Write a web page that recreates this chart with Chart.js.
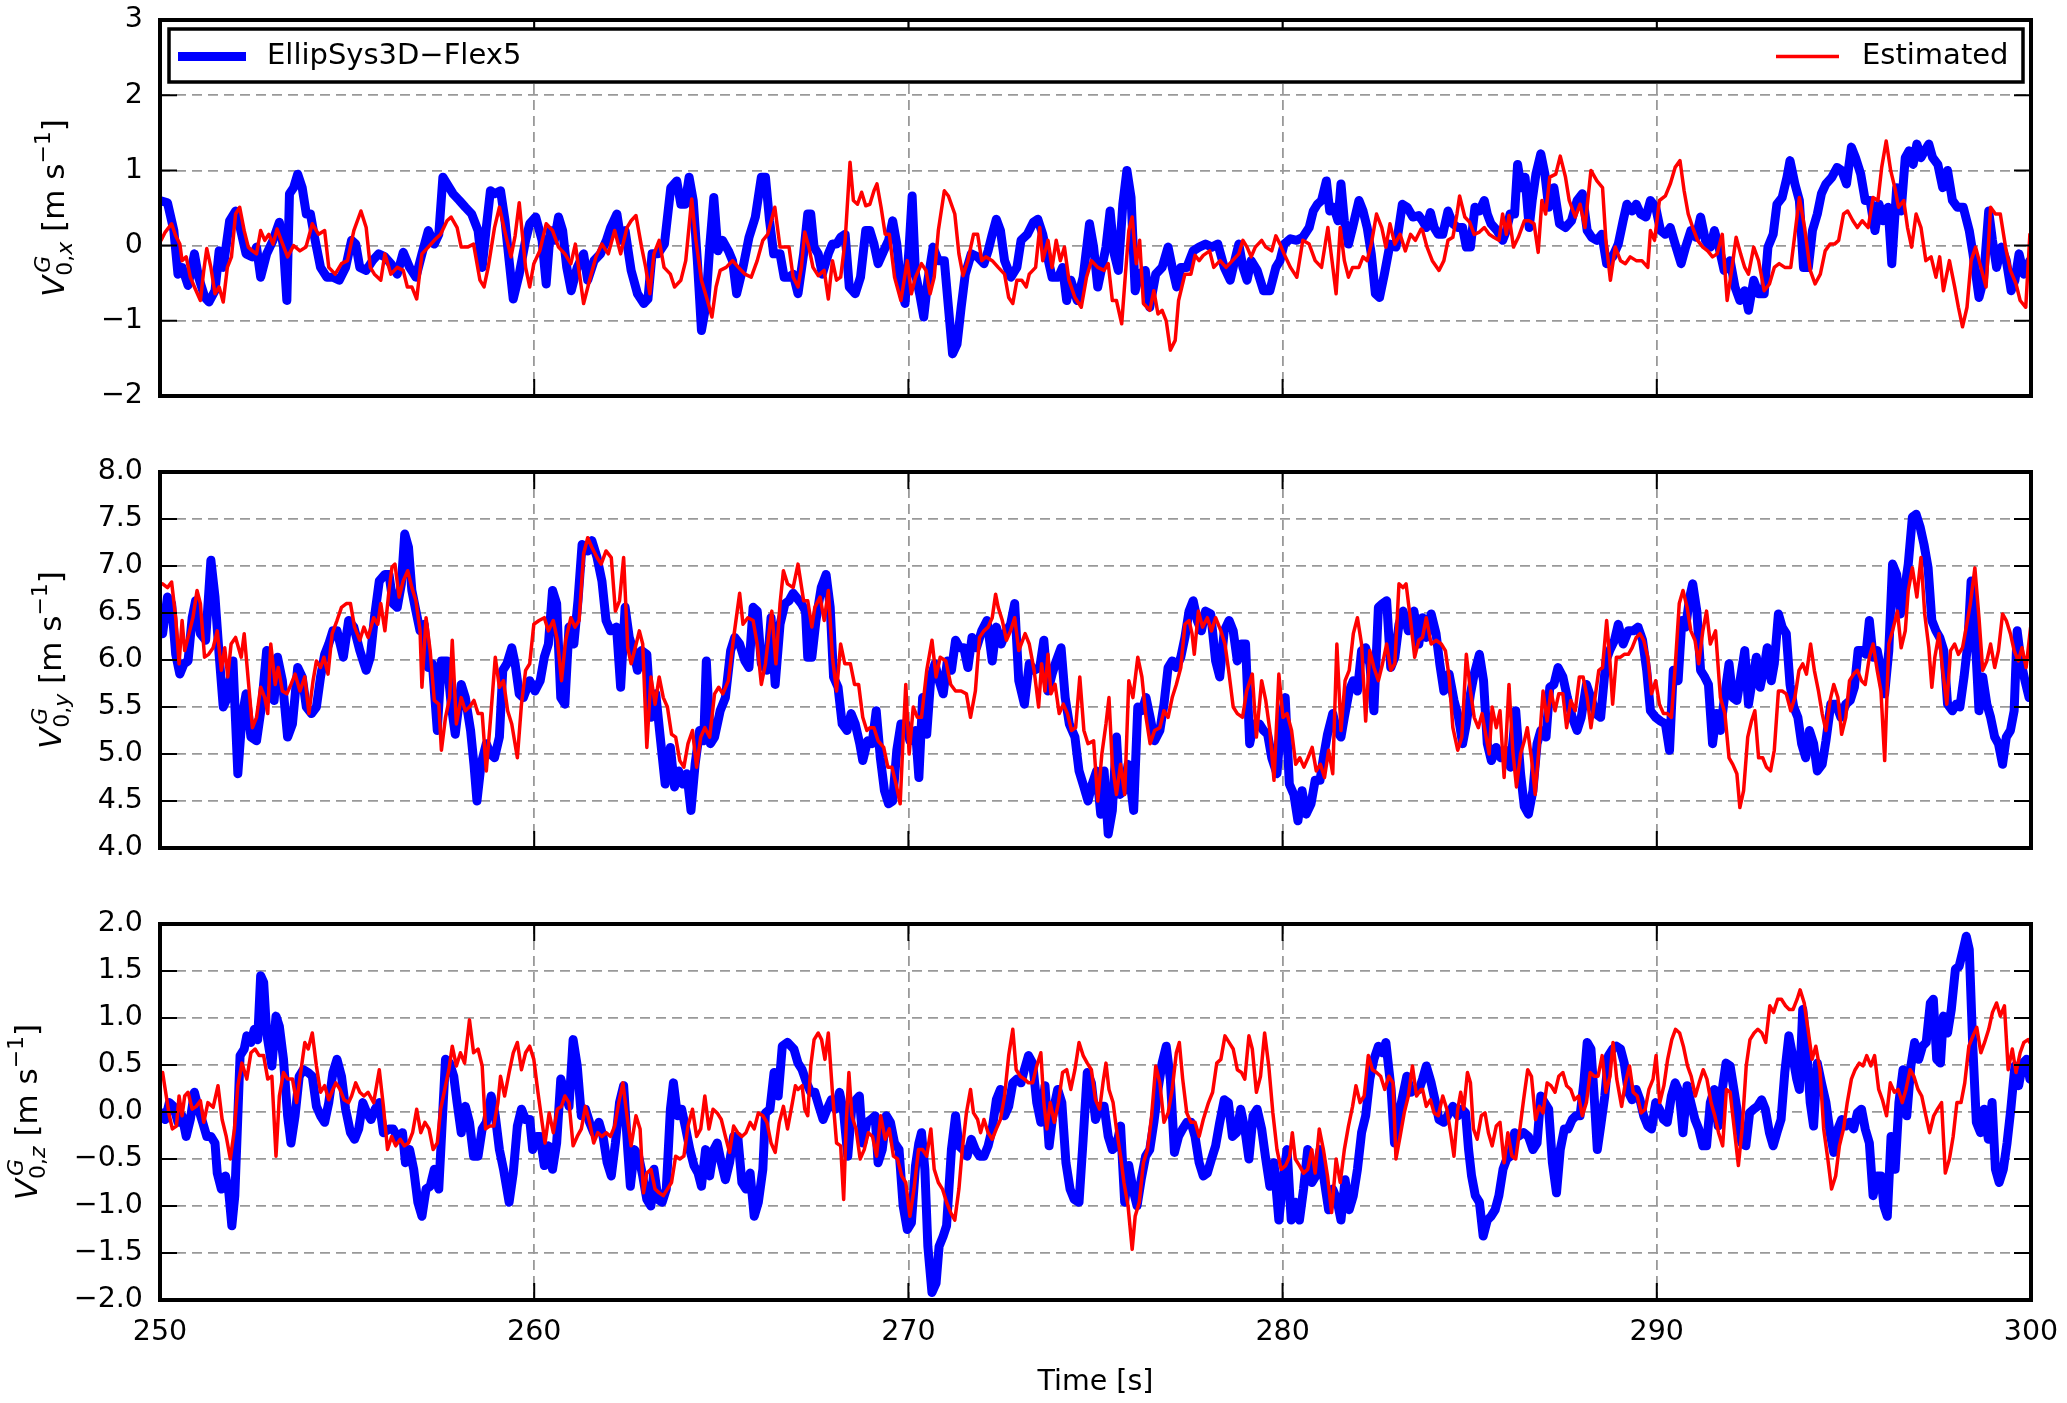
<!DOCTYPE html>
<html>
<head>
<meta charset="utf-8">
<title>Velocity components</title>
<script src="https://cdn.jsdelivr.net/npm/chart.js@4.4.1/dist/chart.umd.min.js"></script>
<style>
  html, body { margin: 0; padding: 0; background: #fff; }
  #wrap { position: relative; width: 2067px; height: 1403px; background: #fff; }
  .panel { position: absolute; left: 0; width: 2067px; }
</style>
</head>
<body>
<div id="wrap">
  <div class="panel" style="top:0;height:440px"><canvas id="chartX"></canvas></div>
  <div class="panel" style="top:440px;height:440px"><canvas id="chartY"></canvas></div>
  <div class="panel" style="top:880px;height:523px"><canvas id="chartZ"></canvas></div>
</div>
<script>
// ---- data: [time s, value m/s] ----
const seriesNames = ['EllipSys3D\u2212Flex5', 'Estimated'];
const timeTicks = [250, 260, 270, 280, 290, 300];
const vxTicks = [-2, -1, 0, 1, 2, 3];
const vyTicks = [4.0, 4.5, 5.0, 5.5, 6.0, 6.5, 7.0, 7.5, 8.0];
const vzTicks = [-2.0, -1.5, -1.0, -0.5, 0.0, 0.5, 1.0, 1.5, 2.0];

const vxEllipSys = [
[250.0,0.60],[250.2,0.57],[250.37,0.2],[250.48,-0.38],[250.59,-0.29],[250.75,-0.53],[250.92,-0.11],[251.03,-0.42],[251.2,-0.69],[251.31,-0.75],
[251.47,-0.6],[251.58,-0.07],[251.69,-0.29],[251.86,0.33],[252.02,0.46],[252.14,0.24],[252.3,-0.11],[252.47,-0.15],[252.58,-0.02],[252.69,-0.42],
[252.85,-0.11],[253.02,0.07],[253.19,0.31],[253.3,-0.02],[253.39,-0.73],[253.46,0.69],[253.57,0.77],[253.68,0.95],[253.8,0.77],[253.91,0.42],
[254.02,0.42],[254.13,0.11],[254.29,-0.29],[254.46,-0.42],[254.62,-0.42],[254.79,-0.46],[254.96,-0.29],[255.12,0.07],[255.23,0.02],[255.34,-0.29],
[255.51,-0.33],[255.68,-0.2],[255.84,-0.11],[256.01,-0.15],[256.17,-0.24],[256.34,-0.38],[256.5,-0.09],[256.67,-0.29],[256.84,-0.42],[257.0,-0.11],
[257.17,0.2],[257.33,0.02],[257.45,0.15],[257.56,0.91],[257.67,0.82],[257.83,0.69],[258.0,0.6],[258.16,0.51],[258.33,0.42],[258.5,0.2],
[258.61,-0.29],[258.72,0.24],[258.83,0.73],[258.94,0.69],[259.1,0.73],[259.22,0.33],[259.33,-0.2],[259.44,-0.71],[259.6,-0.38],[259.77,0.07],
[259.88,0.29],[260.04,0.38],[260.21,0.07],[260.32,-0.51],[260.43,0.2],[260.54,0.07],[260.65,0.38],[260.76,0.2],[260.87,-0.29],[260.99,-0.6],
[261.15,-0.29],[261.32,-0.11],[261.43,-0.46],[261.6,-0.2],[261.77,-0.11],[261.93,0.07],[262.04,0.24],[262.21,0.42],[262.32,0.07],[262.43,0.2],
[262.59,-0.33],[262.76,-0.64],[262.93,-0.77],[263.04,-0.71],[263.15,-0.11],[263.31,-0.11],[263.48,0.02],[263.65,0.77],[263.81,0.86],[263.92,0.55],
[264.03,0.55],[264.14,0.91],[264.25,0.6],[264.36,-0.2],[264.47,-1.13],[264.58,-0.82],[264.69,-0.02],[264.8,0.64],[264.91,-0.07],[265.03,0.07],
[265.19,-0.07],[265.3,-0.2],[265.41,-0.64],[265.58,-0.29],[265.74,0.11],[265.91,0.38],[266.07,0.91],[266.18,0.91],[266.29,0.33],[266.4,-0.11],
[266.57,-0.11],[266.68,-0.42],[266.81,-0.42],[266.92,-0.38],[267.05,-0.64],[267.2,-0.11],[267.31,0.42],[267.39,0.42],[267.48,-0.02],[267.59,-0.11],
[267.7,-0.38],[267.86,-0.11],[267.97,0.02],[268.08,0.02],[268.19,0.11],[268.31,0.15],[268.42,-0.55],[268.58,-0.64],[268.72,-0.42],[268.86,0.2],
[268.97,0.2],[269.08,0.02],[269.19,-0.24],[269.34,-0.07],[269.47,0.07],[269.58,0.33],[269.69,0.02],[269.8,-0.55],[269.91,-0.77],[270.02,-0.02],
[270.1,0.66],[270.19,-0.38],[270.3,-0.64],[270.41,-0.95],[270.52,-0.46],[270.66,-0.02],[270.8,-0.2],[270.96,-0.2],[271.07,-0.82],[271.18,-1.44],
[271.3,-1.31],[271.41,-0.82],[271.52,-0.38],[271.68,-0.11],[271.85,-0.15],[272.02,-0.24],[272.13,-0.07],[272.24,0.15],[272.35,0.35],[272.46,0.2],
[272.57,-0.2],[272.74,-0.42],[272.9,-0.29],[273.01,0.07],[273.18,0.15],[273.34,0.31],[273.46,0.35],[273.59,0.15],[273.7,-0.11],[273.84,-0.42],
[274.01,-0.42],[274.12,-0.29],[274.23,-0.73],[274.34,-0.46],[274.51,-0.73],[274.67,-0.42],[274.84,0.29],[274.95,-0.02],[275.06,-0.55],[275.17,-0.29],
[275.28,-0.02],[275.39,0.46],[275.5,-0.11],[275.61,-0.33],[275.73,0.55],[275.84,1.0],[275.95,0.64],[276.06,-0.6],[276.17,-0.38],[276.33,-0.33],
[276.45,-0.82],[276.61,-0.38],[276.78,-0.29],[276.94,-0.02],[277.05,-0.29],[277.17,-0.55],[277.28,-0.29],[277.44,-0.29],[277.61,-0.07],[277.77,-0.02],
[277.94,0.02],[278.11,-0.02],[278.27,0.02],[278.44,-0.29],[278.6,-0.46],[278.72,-0.2],[278.83,0.02],[278.94,-0.29],[279.05,-0.46],[279.16,-0.2],
[279.32,-0.33],[279.49,-0.6],[279.66,-0.6],[279.82,-0.29],[279.93,-0.2],[280.04,0.02],[280.21,0.09],[280.38,0.07],[280.54,0.11],[280.71,0.24],
[280.82,0.46],[280.93,0.55],[281.04,0.6],[281.17,0.86],[281.26,0.46],[281.37,0.51],[281.48,0.33],[281.56,0.82],[281.65,0.33],[281.76,0.02],
[281.87,0.24],[282.04,0.6],[282.15,0.46],[282.26,0.24],[282.37,-0.11],[282.48,-0.64],[282.59,-0.69],[282.72,-0.38],[282.87,0.02],[283.03,-0.02],
[283.2,0.55],[283.33,0.51],[283.48,0.38],[283.64,0.4],[283.74,0.33],[283.84,0.24],[283.95,0.44],[284.05,0.24],[284.16,0.15],[284.28,0.15],
[284.42,0.46],[284.55,0.29],[284.68,0.24],[284.81,0.24],[284.91,-0.02],[285.02,-0.02],[285.14,0.51],[285.26,0.46],[285.39,0.6],[285.47,0.42],
[285.57,0.29],[285.73,0.2],[285.88,0.07],[285.98,0.2],[286.08,0.42],[286.2,0.42],[286.28,1.08],[286.38,0.77],[286.48,0.91],[286.59,0.24],
[286.67,0.6],[286.77,0.95],[286.9,1.22],[287.01,0.95],[287.11,0.51],[287.25,0.77],[287.4,0.29],[287.56,0.24],[287.72,0.33],[287.87,0.6],
[288.01,0.69],[288.14,0.2],[288.26,0.11],[288.4,0.07],[288.53,0.15],[288.66,-0.24],[288.82,-0.15],[288.97,0.02],[289.1,0.33],[289.2,0.55],
[289.34,0.46],[289.45,0.55],[289.57,0.42],[289.71,0.38],[289.83,0.6],[289.97,0.51],[290.1,0.2],[290.23,0.15],[290.36,0.24],[290.49,0.02],
[290.65,-0.24],[290.77,-0.02],[290.91,0.2],[291.05,0.11],[291.17,0.38],[291.3,0.07],[291.43,-0.02],[291.54,0.2],[291.66,-0.02],[291.8,-0.33],
[291.96,-0.2],[292.09,-0.55],[292.22,-0.73],[292.35,-0.6],[292.45,-0.86],[292.59,-0.46],[292.72,-0.64],[292.87,-0.64],[292.97,-0.02],[293.11,0.15],
[293.21,0.55],[293.35,0.64],[293.48,0.91],[293.56,1.13],[293.69,0.82],[293.81,0.6],[293.92,-0.29],[294.05,-0.29],[294.16,0.2],[294.29,0.42],
[294.4,0.69],[294.52,0.82],[294.68,0.91],[294.82,1.04],[294.94,1.0],[295.07,0.82],[295.2,1.31],[295.31,1.17],[295.45,0.95],[295.57,0.6],
[295.7,0.6],[295.83,0.2],[295.94,0.55],[296.04,0.33],[296.18,0.51],[296.28,-0.24],[296.41,0.77],[296.53,0.46],[296.64,1.17],[296.74,1.26],
[296.85,1.08],[296.95,1.35],[297.06,1.17],[297.16,1.26],[297.27,1.35],[297.37,1.17],[297.51,1.08],[297.64,0.77],[297.77,1.0],[297.9,0.6],
[298.03,0.51],[298.19,0.51],[298.35,0.2],[298.45,-0.11],[298.61,-0.69],[298.73,-0.46],[298.87,0.46],[298.97,0.07],[299.08,-0.29],[299.21,-0.02],
[299.34,-0.2],[299.47,-0.6],[299.57,-0.46],[299.68,-0.11],[299.81,-0.38],[299.97,-0.2]
];

const vxEstimated = [
[250.03,0.07],[250.14,0.18],[250.31,0.29],[250.42,0.13],[250.53,0.02],[250.59,-0.2],[250.7,-0.15],[250.81,-0.42],[250.92,-0.55],[251.08,-0.73],
[251.17,-0.33],[251.25,-0.04],[251.36,-0.29],[251.47,-0.64],[251.58,-0.55],[251.69,-0.75],[251.8,-0.29],[251.91,-0.15],[252.02,0.42],[252.13,0.51],
[252.25,0.2],[252.36,-0.02],[252.47,-0.07],[252.58,-0.11],[252.69,0.2],[252.8,0.07],[252.91,0.15],[253.02,0.02],[253.13,0.22],[253.24,0.07],
[253.41,-0.15],[253.57,0],[253.74,-0.07],[253.9,-0.02],[254.07,0.29],[254.24,0.15],[254.4,0.2],[254.51,-0.29],[254.68,-0.38],[254.85,-0.24],
[255.01,-0.2],[255.18,0.2],[255.37,0.46],[255.51,0.24],[255.62,-0.29],[255.73,-0.38],[255.9,-0.46],[256.01,-0.11],[256.17,-0.38],[256.34,-0.29],
[256.5,-0.33],[256.61,-0.55],[256.73,-0.55],[256.86,-0.71],[257.0,-0.11],[257.17,-0.02],[257.33,0.07],[257.5,0.15],[257.67,0.33],[257.78,0.38],
[257.94,0.24],[258.05,-0.02],[258.22,-0.02],[258.38,0.02],[258.55,-0.46],[258.66,-0.55],[258.77,-0.29],[258.94,0.24],[259.07,0.51],[259.21,0.2],
[259.38,-0.15],[259.49,0.13],[259.6,0.57],[259.77,-0.29],[259.88,-0.55],[259.99,-0.24],[260.15,-0.07],[260.32,0.29],[260.49,0.2],[260.65,-0.02],
[260.82,-0.11],[260.98,-0.24],[261.1,0.02],[261.21,-0.38],[261.32,-0.77],[261.48,-0.46],[261.65,-0.15],[261.81,0.02],[261.98,-0.11],[262.15,0.2],
[262.31,-0.11],[262.48,0.24],[262.59,0.33],[262.72,0.4],[262.87,-0.02],[262.98,-0.29],[263.09,-0.64],[263.2,-0.11],[263.34,0.07],[263.47,-0.29],
[263.64,-0.38],[263.75,-0.55],[263.92,-0.46],[264.05,-0.2],[264.21,0.62],[264.32,0.07],[264.47,-0.46],[264.63,-0.73],[264.75,-0.95],[264.86,-0.55],
[264.97,-0.33],[265.13,-0.29],[265.3,-0.2],[265.46,-0.29],[265.63,-0.38],[265.8,-0.42],[265.96,-0.2],[266.11,0.07],[266.24,0.15],[266.43,0.51],
[266.57,-0.02],[266.74,-0.02],[266.81,-0.02],[266.92,-0.42],[267.05,-0.55],[267.14,-0.29],[267.23,0.18],[267.34,-0.02],[267.45,-0.29],[267.59,-0.4],
[267.75,-0.33],[267.86,-0.71],[267.97,-0.2],[268.08,-0.46],[268.19,-0.42],[268.31,0.07],[268.44,1.11],[268.53,0.6],[268.64,0.55],[268.75,0.71],
[268.86,0.53],[268.97,0.55],[269.08,0.73],[269.16,0.82],[269.27,0.51],[269.38,0.15],[269.49,0.15],[269.63,-0.42],[269.8,-0.73],[269.97,-0.2],
[270.08,-0.64],[270.19,-0.42],[270.35,-0.24],[270.47,-0.33],[270.58,-0.64],[270.69,-0.42],[270.8,0.2],[270.96,0.73],[271.07,0.66],[271.24,0.42],
[271.35,-0.11],[271.46,-0.4],[271.59,-0.2],[271.74,0.15],[271.85,0.15],[271.96,-0.2],[272.07,-0.15],[272.24,-0.2],[272.4,-0.29],[272.57,-0.38],
[272.68,-0.69],[272.79,-0.77],[272.9,-0.46],[273.03,-0.46],[273.15,-0.55],[273.23,-0.38],[273.4,-0.29],[273.51,0.24],[273.59,-0.2],[273.73,0.07],
[273.84,-0.29],[273.95,0.07],[274.06,-0.2],[274.17,-0.02],[274.29,-0.46],[274.45,-0.69],[274.62,-0.82],[274.76,-0.42],[274.89,-0.2],[275.06,-0.29],
[275.23,-0.33],[275.34,-0.24],[275.45,-0.73],[275.56,-0.73],[275.7,-1.04],[275.8,-0.38],[275.89,0.2],[275.98,0.38],[276.09,-0.24],[276.18,0.07],
[276.28,-0.77],[276.45,-0.86],[276.56,-0.6],[276.67,-0.91],[276.78,-0.86],[276.89,-1.0],[277.0,-1.39],[277.13,-1.26],[277.22,-0.73],[277.39,-0.38],
[277.55,-0.38],[277.66,-0.13],[277.77,-0.2],[277.88,-0.13],[278.05,-0.07],[278.16,-0.29],[278.33,-0.2],[278.49,-0.29],[278.66,-0.2],[278.83,-0.11],
[278.94,0.07],[279.05,-0.02],[279.16,-0.15],[279.27,-0.02],[279.44,0.07],[279.55,-0.02],[279.71,-0.07],[279.82,0.13],[279.93,0.02],[280.04,-0.11],
[280.21,-0.29],[280.38,-0.42],[280.54,0.07],[280.71,0.02],[280.87,-0.2],[281.04,-0.29],[281.21,0.24],[281.32,-0.2],[281.43,-0.64],[281.54,0.24],
[281.65,-0.2],[281.76,-0.42],[281.87,-0.29],[282.04,-0.29],[282.15,-0.15],[282.26,-0.2],[282.37,0.02],[282.51,0.42],[282.65,0.24],[282.76,-0.02],
[282.87,0.29],[283.0,0.02],[283.14,0.15],[283.28,-0.07],[283.42,0.15],[283.55,0.07],[283.7,0.22],[283.74,0.2],[283.86,-0.02],[284.0,-0.2],
[284.18,-0.33],[284.31,-0.2],[284.42,0.07],[284.55,0.11],[284.66,0.42],[284.73,0.66],[284.87,0.38],[285.0,0.31],[285.12,0.15],[285.26,0.18],
[285.39,0.24],[285.52,0.15],[285.64,0.11],[285.78,0.07],[285.88,0.42],[285.98,0.15],[286.05,0.4],[286.17,-0.02],[286.3,0.11],[286.46,0.33],
[286.59,0.33],[286.72,0.29],[286.83,-0.09],[286.93,0.6],[287.03,0.42],[287.14,0.91],[287.3,0.95],[287.42,1.19],[287.56,0.91],[287.66,0.6],
[287.82,0.38],[287.95,0.55],[288.08,0.24],[288.24,1.0],[288.4,0.86],[288.55,0.77],[288.64,0.07],[288.76,-0.46],[288.89,-0.02],[289.03,-0.2],
[289.16,-0.24],[289.29,-0.15],[289.45,-0.2],[289.6,-0.2],[289.76,-0.29],[289.83,0.2],[289.94,0.07],[290.07,0.6],[290.23,0.66],[290.36,0.82],
[290.49,1.04],[290.62,1.13],[290.73,0.73],[290.84,0.42],[290.96,0.24],[291.09,0.07],[291.23,-0.02],[291.36,-0.07],[291.49,-0.15],[291.61,-0.11],
[291.75,0.15],[291.88,-0.73],[292.01,-0.29],[292.12,0.11],[292.24,-0.11],[292.35,-0.29],[292.45,-0.38],[292.59,-0.02],[292.72,-0.2],[292.87,-0.6],
[293.01,-0.51],[293.14,-0.29],[293.27,-0.24],[293.42,-0.29],[293.58,-0.29],[293.69,0.15],[293.81,0.64],[293.95,0.24],[294.1,-0.33],[294.23,-0.51],
[294.37,-0.38],[294.5,-0.07],[294.63,0.02],[294.75,0.02],[294.86,0.07],[294.99,0.42],[295.1,0.46],[295.24,0.33],[295.36,0.24],[295.49,0.33],
[295.65,0.24],[295.78,0.64],[295.91,0.6],[296.01,1.04],[296.13,1.39],[296.25,1.0],[296.36,0.77],[296.46,0.51],[296.6,0.6],[296.7,0.24],
[296.81,-0.02],[296.93,0.42],[297.06,0.24],[297.19,-0.2],[297.33,-0.15],[297.46,-0.42],[297.56,-0.15],[297.66,-0.6],[297.82,-0.2],[297.96,-0.55],
[298.06,-0.82],[298.17,-1.08],[298.29,-0.82],[298.4,-0.2],[298.52,-0.02],[298.66,-0.29],[298.8,-0.55],[298.92,0.51],[299.05,0.42],[299.18,0.42],
[299.32,-0.02],[299.45,-0.33],[299.6,-0.51],[299.71,-0.73],[299.86,-0.82],[299.97,0.15]
];

const vyEllipSys = [
[250.07,6.28],[250.2,6.67],[250.31,6.6],[250.42,6.06],[250.53,5.85],[250.64,5.96],[250.75,5.99],[250.86,6.45],[250.95,6.63],[251.08,6.28],
[251.22,6.21],[251.36,7.06],[251.47,6.67],[251.58,6.06],[251.69,5.5],[251.8,5.6],[251.95,5.99],[252.08,4.79],[252.19,5.39],[252.3,5.64],
[252.43,5.18],[252.58,5.14],[252.72,5.53],[252.85,6.1],[252.96,5.92],[253.05,5.57],[253.14,6.03],[253.27,5.78],[253.41,5.18],[253.54,5.32],
[253.68,5.92],[253.8,5.82],[253.91,5.5],[254.05,5.43],[254.18,5.5],[254.29,5.82],[254.4,6.06],[254.51,6.17],[254.62,6.31],[254.73,6.31],
[254.9,6.03],[255.04,6.42],[255.18,6.35],[255.34,6.1],[255.51,5.89],[255.62,6.03],[255.73,6.45],[255.86,6.84],[256.01,6.91],[256.12,6.91],
[256.23,6.6],[256.34,6.56],[256.45,6.81],[256.54,7.34],[256.64,7.2],[256.73,6.74],[256.84,6.52],[256.95,6.31],[257.06,6.38],[257.17,5.92],
[257.28,5.96],[257.41,5.25],[257.52,5.99],[257.67,5.99],[257.78,5.53],[257.89,5.21],[258.05,5.74],[258.16,5.6],[258.3,5.25],[258.39,4.89],
[258.47,4.5],[258.58,4.89],[258.72,5.11],[258.83,5.0],[258.94,4.96],[259.07,5.18],[259.16,5.89],[259.27,5.96],[259.4,6.13],[259.49,5.96],
[259.6,5.64],[259.71,5.6],[259.88,5.78],[260.02,5.67],[260.16,5.78],[260.27,6.03],[260.38,6.17],[260.49,6.74],[260.6,6.6],[260.71,5.6],
[260.82,5.53],[260.93,6.35],[261.06,6.17],[261.17,6.63],[261.28,7.23],[261.43,7.16],[261.54,7.27],[261.68,7.09],[261.81,6.84],[261.92,6.42],
[262.04,6.31],[262.2,6.35],[262.31,5.71],[262.43,6.56],[262.54,6.24],[262.65,6.1],[262.76,5.89],[262.87,6.1],[263.01,6.06],[263.12,5.39],
[263.25,5.64],[263.36,5.21],[263.5,4.68],[263.64,5.07],[263.75,4.65],[263.86,4.82],[263.97,4.68],[264.08,4.79],[264.19,4.4],[264.3,4.89],
[264.42,5.25],[264.53,5.14],[264.6,5.99],[264.71,5.11],[264.82,5.18],[264.97,5.46],[265.11,5.6],[265.25,6.1],[265.36,6.24],[265.49,6.17],
[265.63,5.99],[265.74,5.92],[265.85,6.56],[265.96,6.52],[266.07,5.96],[266.22,5.89],[266.33,6.45],[266.44,5.74],[266.57,6.38],[266.7,6.6],
[266.81,6.63],[266.92,6.71],[267.14,6.6],[267.25,6.52],[267.31,6.03],[267.42,6.03],[267.53,6.42],[267.67,6.77],[267.8,6.91],[267.91,6.56],
[268.0,5.82],[268.12,5.71],[268.23,5.32],[268.36,5.25],[268.47,5.43],[268.58,5.32],[268.7,5.11],[268.78,4.93],[268.91,5.14],[269.03,5.11],
[269.14,5.46],[269.25,4.96],[269.36,4.61],[269.47,4.47],[269.58,4.5],[269.69,5.04],[269.8,5.32],[269.93,5.32],[270.04,5.14],[270.19,5.25],
[270.28,4.75],[270.38,5.6],[270.49,5.21],[270.6,5.82],[270.71,5.96],[270.82,5.78],[270.93,5.64],[271.04,5.99],[271.15,5.89],[271.26,6.21],
[271.37,6.13],[271.48,6.13],[271.59,5.92],[271.7,6.24],[271.82,6.13],[271.96,6.31],[272.1,6.42],[272.24,5.99],[272.35,6.35],[272.48,6.17],
[272.62,6.31],[272.73,6.38],[272.84,6.6],[272.95,5.78],[273.1,5.53],[273.23,5.96],[273.36,5.89],[273.51,5.92],[273.62,6.21],[273.73,5.67],
[273.84,5.85],[273.95,5.99],[274.08,6.13],[274.19,5.6],[274.3,5.32],[274.45,5.18],[274.56,4.82],[274.69,4.65],[274.8,4.5],[274.91,4.68],
[275.03,4.82],[275.14,4.36],[275.23,4.82],[275.34,4.15],[275.45,4.4],[275.56,5.18],[275.65,4.57],[275.76,4.61],[275.87,4.89],[276.02,4.4],
[276.13,5.5],[276.24,5.46],[276.35,5.6],[276.46,5.39],[276.58,5.14],[276.72,5.25],[276.83,5.53],[276.94,5.92],[277.05,5.99],[277.16,5.92],
[277.28,6.03],[277.39,6.24],[277.5,6.52],[277.61,6.63],[277.72,6.42],[277.83,6.31],[277.94,6.52],[278.08,6.49],[278.21,5.99],[278.32,5.82],
[278.44,6.31],[278.57,6.42],[278.68,6.31],[278.79,5.99],[278.9,6.17],[279.01,6.17],[279.12,5.11],[279.23,5.32],[279.38,5.32],[279.49,5.25],
[279.6,5.21],[279.71,4.96],[279.85,4.79],[279.96,5.35],[280.07,5.6],[280.18,4.68],[280.3,4.57],[280.41,4.29],[280.52,4.61],[280.63,4.36],
[280.76,4.47],[280.87,4.72],[281.0,4.72],[281.09,4.96],[281.2,5.21],[281.34,5.43],[281.45,5.25],[281.56,5.18],[281.65,5.39],[281.78,5.67],
[281.89,5.78],[282.0,5.67],[282.11,6.1],[282.22,6.13],[282.33,5.96],[282.44,5.46],[282.56,6.56],[282.67,6.6],[282.78,6.63],[282.89,5.92],
[283.0,6.03],[283.11,6.38],[283.22,6.52],[283.36,6.31],[283.51,6.52],[283.64,6.17],[283.74,6.45],[283.84,6.24],[283.97,6.49],[284.1,6.28],
[284.2,5.96],[284.31,5.67],[284.45,5.85],[284.58,5.57],[284.7,5.39],[284.81,5.11],[284.91,5.32],[285.02,5.64],[285.12,5.85],[285.26,6.06],
[285.37,5.78],[285.47,5.11],[285.58,4.93],[285.71,5.07],[285.83,4.96],[285.96,5.04],[286.09,4.86],[286.23,5.46],[286.36,4.79],[286.46,4.44],
[286.57,4.36],[286.69,4.61],[286.8,5.11],[286.9,5.25],[287.04,5.18],[287.14,5.71],[287.25,5.74],[287.36,5.92],[287.49,5.82],[287.61,5.6],
[287.74,5.39],[287.87,5.25],[287.98,5.39],[288.12,5.74],[288.24,5.6],[288.37,5.43],[288.5,5.39],[288.64,5.99],[288.74,6.1],[288.87,6.21],
[288.97,6.38],[289.1,6.17],[289.24,6.31],[289.37,6.31],[289.5,6.35],[289.62,6.21],[289.73,5.89],[289.83,5.46],[289.97,5.39],[290.1,5.35],
[290.23,5.32],[290.34,5.04],[290.44,5.89],[290.57,5.78],[290.67,6.42],[290.77,6.35],[290.88,6.67],[290.96,6.81],[291.07,6.52],[291.17,5.89],
[291.28,5.82],[291.38,5.74],[291.49,5.11],[291.59,5.43],[291.7,5.25],[291.82,5.64],[291.93,5.96],[292.03,5.6],[292.14,5.57],[292.24,5.82],
[292.35,6.1],[292.45,5.53],[292.55,5.78],[292.66,6.03],[292.76,5.71],[292.87,5.92],[292.95,6.13],[293.06,5.78],[293.14,5.96],[293.25,6.49],
[293.35,6.35],[293.46,6.28],[293.56,5.74],[293.66,5.5],[293.77,5.39],[293.87,5.11],[293.98,4.96],[294.08,5.25],[294.19,5.11],[294.29,4.82],
[294.42,4.89],[294.52,5.14],[294.65,5.53],[294.79,5.53],[294.92,5.39],[295.05,5.53],[295.17,5.57],[295.28,5.71],[295.38,6.1],[295.49,6.1],
[295.59,6.06],[295.68,6.42],[295.78,6.03],[295.89,6.1],[295.99,5.89],[296.09,5.64],[296.2,6.1],[296.3,7.02],[296.41,6.91],[296.51,6.49],
[296.62,6.74],[296.72,7.02],[296.83,7.52],[296.93,7.55],[297.04,7.41],[297.14,7.23],[297.25,6.98],[297.35,6.42],[297.46,6.31],[297.56,6.24],
[297.67,6.1],[297.77,5.53],[297.9,5.46],[298.0,5.53],[298.1,5.5],[298.21,5.82],[298.31,6.17],[298.4,6.84],[298.5,6.31],[298.61,5.46],
[298.71,5.82],[298.82,5.53],[298.92,5.39],[299.03,5.18],[299.13,5.11],[299.24,4.89],[299.34,5.18],[299.45,5.25],[299.55,5.46],[299.63,6.31],
[299.74,5.96],[299.84,5.78],[299.95,5.6]
];

const vyEstimated = [
[250.07,6.81],[250.2,6.77],[250.31,6.83],[250.42,6.45],[250.51,5.96],[250.59,6.42],[250.66,6.1],[250.75,6.24],[250.88,6.45],[250.99,6.74],
[251.08,6.6],[251.19,6.03],[251.3,6.06],[251.42,6.13],[251.53,6.31],[251.64,5.89],[251.73,6.13],[251.81,5.82],[251.9,6.17],[252.02,6.24],
[252.17,6.03],[252.25,6.28],[252.36,5.78],[252.47,5.28],[252.58,5.39],[252.69,5.71],[252.8,5.6],[252.88,5.43],[252.96,6.17],[253.08,5.74],
[253.16,5.92],[253.27,5.67],[253.39,5.64],[253.5,5.74],[253.61,5.85],[253.74,5.67],[253.87,5.82],[253.98,5.43],[254.09,5.78],[254.18,5.99],
[254.29,5.92],[254.38,6.03],[254.49,5.85],[254.6,6.28],[254.73,6.42],[254.85,6.56],[254.98,6.6],[255.09,6.6],[255.2,6.35],[255.34,6.21],
[255.45,6.35],[255.56,6.24],[255.71,6.45],[255.82,6.38],[255.9,6.6],[256.01,6.31],[256.12,6.74],[256.2,6.99],[256.28,7.02],[256.39,6.67],
[256.5,6.84],[256.62,6.95],[256.73,6.77],[256.84,6.63],[256.95,6.31],[257.0,5.71],[257.11,6.45],[257.22,6.1],[257.33,5.57],[257.45,5.53],
[257.52,5.04],[257.63,5.39],[257.74,5.6],[257.81,6.21],[257.92,5.32],[258.05,5.6],[258.16,5.46],[258.27,5.5],[258.39,5.57],[258.5,5.43],
[258.61,5.43],[258.72,4.82],[258.85,5.46],[258.96,6.03],[259.07,5.71],[259.18,5.78],[259.29,5.46],[259.4,5.32],[259.55,4.96],[259.66,5.53],
[259.77,5.89],[259.88,5.96],[259.99,6.38],[260.13,6.42],[260.27,6.45],[260.38,6.31],[260.51,6.42],[260.62,6.21],[260.73,5.78],[260.84,6.21],
[260.98,6.45],[261.09,6.35],[261.2,6.42],[261.32,7.13],[261.43,7.3],[261.54,7.2],[261.68,7.09],[261.79,7.02],[261.92,7.16],[262.06,7.09],
[262.17,6.52],[262.28,6.63],[262.39,7.09],[262.5,6.13],[262.59,5.96],[262.7,6.13],[262.81,6.31],[262.9,6.17],[263.01,5.07],[263.12,5.82],
[263.23,5.53],[263.34,5.82],[263.45,5.6],[263.56,5.5],[263.67,5.21],[263.78,5.18],[263.89,4.93],[264.0,4.86],[264.11,5.11],[264.23,5.25],
[264.34,4.86],[264.45,5.18],[264.56,5.28],[264.69,5.18],[264.82,5.64],[264.93,5.71],[265.04,5.64],[265.19,5.78],[265.33,6.24],[265.49,6.71],
[265.58,6.38],[265.71,6.45],[265.85,6.42],[265.96,6.17],[266.07,5.74],[266.18,5.96],[266.26,6.24],[266.35,6.52],[266.46,5.96],[266.57,6.6],
[266.66,6.95],[266.77,6.81],[266.92,6.77],[267.05,7.02],[267.2,6.63],[267.31,6.63],[267.42,6.35],[267.5,6.56],[267.64,6.67],[267.75,6.42],
[267.86,6.74],[267.97,6.03],[268.08,5.67],[268.19,6.17],[268.3,5.96],[268.45,5.96],[268.56,5.74],[268.67,5.74],[268.78,5.39],[268.89,5.25],
[268.97,5.28],[269.08,5.28],[269.19,5.14],[269.34,5.07],[269.45,4.86],[269.56,4.86],[269.67,4.68],[269.78,4.47],[269.86,5.18],[269.93,5.74],
[270.02,5.0],[270.13,5.5],[270.24,5.39],[270.35,5.39],[270.49,5.89],[270.63,6.21],[270.74,5.82],[270.85,6.03],[271.0,5.99],[271.13,5.74],
[271.26,5.67],[271.41,5.67],[271.55,5.64],[271.66,5.39],[271.79,5.67],[271.9,6.24],[272.02,6.31],[272.13,6.35],[272.24,6.45],[272.33,6.7],
[272.4,6.56],[272.51,6.42],[272.62,6.21],[272.73,6.31],[272.84,6.45],[272.95,6.1],[273.12,6.28],[273.23,6.17],[273.36,5.89],[273.48,5.5],
[273.56,5.96],[273.65,5.67],[273.73,6.06],[273.81,5.64],[273.92,5.74],[274.03,5.43],[274.14,5.53],[274.25,5.43],[274.36,5.25],[274.47,5.28],
[274.58,5.82],[274.69,5.25],[274.8,5.11],[274.95,5.14],[275.06,4.5],[275.17,5.0],[275.28,5.32],[275.36,5.6],[275.45,4.89],[275.56,4.57],
[275.67,4.89],[275.78,4.57],[275.89,5.78],[276.0,5.6],[276.13,6.03],[276.24,5.82],[276.35,5.39],[276.46,5.11],[276.58,5.25],[276.72,5.28],
[276.83,5.46],[276.94,5.39],[277.05,5.6],[277.16,5.74],[277.28,5.92],[277.39,6.38],[277.5,6.42],[277.58,6.28],[277.64,6.06],[277.75,6.52],
[277.86,6.35],[277.99,6.45],[278.1,6.31],[278.21,6.45],[278.35,6.31],[278.46,6.17],[278.57,5.85],[278.68,5.5],[278.79,5.43],[278.93,5.39],
[279.04,5.67],[279.19,5.85],[279.3,5.18],[279.44,5.78],[279.55,5.57],[279.66,5.25],[279.77,4.72],[279.9,5.85],[280.01,5.39],[280.12,5.43],
[280.24,5.25],[280.35,4.89],[280.46,4.96],[280.57,4.86],[280.68,4.96],[280.79,5.07],[280.9,4.82],[281.01,4.89],[281.12,4.75],[281.23,5.04],
[281.34,4.79],[281.45,6.17],[281.56,5.25],[281.67,5.78],[281.78,5.89],[281.89,6.28],[282.0,6.45],[282.11,6.17],[282.22,5.35],[282.33,6.1],
[282.44,5.92],[282.56,5.78],[282.67,5.96],[282.78,6.17],[282.89,5.89],[283.0,5.96],[283.11,6.81],[283.22,6.77],[283.3,6.81],[283.42,6.42],
[283.53,6.03],[283.64,6.21],[283.74,6.24],[283.84,6.45],[283.97,6.17],[284.1,6.21],[284.24,6.17],[284.35,6.1],[284.45,5.82],[284.55,5.28],
[284.68,5.04],[284.79,5.18],[284.91,6.06],[285.02,5.67],[285.12,5.39],[285.23,5.28],[285.33,5.43],[285.44,5.18],[285.52,5.0],[285.6,5.5],
[285.71,5.28],[285.81,5.46],[285.92,4.75],[286.05,5.74],[286.15,5.04],[286.25,4.65],[286.36,5.0],[286.46,5.14],[286.54,5.28],[286.65,4.96],
[286.75,4.57],[286.86,5.11],[286.96,5.67],[287.07,5.35],[287.17,5.67],[287.28,5.46],[287.38,5.64],[287.49,5.64],[287.59,5.28],[287.7,5.57],
[287.82,5.46],[287.93,5.82],[288.03,5.82],[288.14,5.6],[288.24,5.28],[288.35,5.6],[288.45,5.89],[288.55,5.92],[288.66,6.42],[288.74,6.03],
[288.82,5.53],[288.92,6.03],[289.03,6.03],[289.13,6.06],[289.24,6.06],[289.34,6.13],[289.45,6.24],[289.55,6.28],[289.65,6.21],[289.76,6.03],
[289.86,5.64],[289.97,5.78],[290.07,5.53],[290.18,5.43],[290.28,5.43],[290.39,5.39],[290.49,5.92],[290.6,6.6],[290.7,6.74],[290.81,6.56],
[290.91,6.31],[291.02,6.21],[291.12,5.96],[291.23,6.31],[291.33,6.52],[291.43,6.17],[291.57,6.31],[291.7,5.6],[291.82,5.43],[291.93,4.96],
[292.03,4.89],[292.14,4.79],[292.22,4.43],[292.32,4.61],[292.43,5.18],[292.53,5.35],[292.62,5.46],[292.72,4.96],[292.83,4.96],[292.93,4.86],
[293.04,4.82],[293.14,5.04],[293.25,5.67],[293.35,5.67],[293.46,5.64],[293.58,5.46],[293.69,5.6],[293.8,5.89],[293.9,5.96],[294.0,5.85],
[294.11,6.17],[294.21,5.89],[294.32,5.67],[294.42,5.43],[294.52,5.25],[294.63,5.57],[294.73,5.74],[294.84,5.6],[294.94,5.21],[295.05,5.39],
[295.15,5.78],[295.26,5.85],[295.36,5.89],[295.47,5.78],[295.57,5.74],[295.68,6.03],[295.78,6.17],[295.89,5.89],[295.99,5.67],[296.09,4.93],
[296.2,6.17],[296.3,6.31],[296.43,6.52],[296.53,6.13],[296.64,6.31],[296.72,6.74],[296.83,6.98],[296.95,6.67],[297.06,7.09],[297.16,6.49],
[297.27,6.13],[297.35,5.71],[297.43,6.03],[297.54,6.28],[297.64,5.89],[297.75,5.53],[297.85,6.1],[297.96,6.17],[298.06,6.06],[298.17,6.13],
[298.27,6.35],[298.38,6.6],[298.5,6.98],[298.61,6.45],[298.71,5.89],[298.82,5.99],[298.92,6.17],[299.03,5.92],[299.13,6.1],[299.24,6.49],
[299.34,6.42],[299.45,6.28],[299.55,6.1],[299.66,5.99],[299.76,6.13],[299.87,5.92],[299.99,6.35]
];

const vzEllipSys = [
[250.07,-0.01],[250.14,-0.08],[250.25,0.1],[250.36,0.06],[250.48,-0.11],[250.59,-0.04],[250.7,-0.26],[250.81,-0.08],[250.92,0.21],[251.03,0.03],
[251.14,-0.11],[251.25,-0.26],[251.36,-0.26],[251.47,-0.33],[251.53,-0.65],[251.64,-0.82],[251.75,-0.68],[251.84,-0.86],[251.92,-1.21],[252.0,-0.89],
[252.08,-0.04],[252.14,0.6],[252.25,0.67],[252.32,0.81],[252.43,0.74],[252.52,0.88],[252.61,0.77],[252.69,1.45],[252.77,1.38],[252.85,0.84],
[252.99,0.49],[253.1,1.02],[253.19,0.91],[253.3,0.56],[253.41,-0.04],[253.5,-0.33],[253.61,-0.04],[253.72,0.38],[253.83,0.45],[253.96,0.42],
[254.07,0.38],[254.18,0.06],[254.29,-0.04],[254.4,-0.11],[254.51,0.1],[254.62,0.42],[254.73,0.56],[254.85,0.38],[254.96,0.03],[255.09,-0.22],
[255.2,-0.29],[255.31,-0.18],[255.42,0.1],[255.53,-0.01],[255.64,-0.08],[255.75,0.03],[255.86,0.1],[255.97,-0.22],[256.12,-0.18],[256.23,-0.18],
[256.37,-0.29],[256.48,-0.22],[256.56,-0.54],[256.67,-0.4],[256.78,-0.61],[256.89,-0.96],[257.0,-1.11],[257.11,-0.82],[257.22,-0.79],[257.33,-0.61],
[257.45,-0.82],[257.56,0.03],[257.63,0.56],[257.74,0.52],[257.85,0.38],[257.94,0.1],[258.05,-0.22],[258.16,0.06],[258.27,-0.11],[258.38,-0.47],
[258.5,-0.47],[258.61,-0.18],[258.72,-0.11],[258.85,0.17],[258.96,-0.04],[259.07,-0.4],[259.18,-0.61],[259.33,-0.96],[259.44,-0.65],[259.55,-0.15],
[259.66,0.03],[259.77,-0.08],[259.88,-0.08],[259.96,-0.4],[260.07,-0.26],[260.16,-0.26],[260.27,-0.57],[260.38,-0.36],[260.49,-0.61],[260.6,-0.33],
[260.71,0.35],[260.82,0.21],[260.93,0.06],[261.04,0.77],[261.15,0.49],[261.26,-0.04],[261.37,0.03],[261.48,-0.11],[261.59,-0.22],[261.73,-0.11],
[261.84,-0.26],[261.95,-0.54],[262.06,-0.68],[262.17,-0.33],[262.28,0.1],[262.39,0.28],[262.5,-0.4],[262.57,-0.79],[262.68,-0.4],[262.79,-0.47],
[262.9,-0.68],[263.01,-0.93],[263.12,-1.0],[263.2,-0.61],[263.31,-0.93],[263.42,-0.96],[263.53,-0.82],[263.64,0.03],[263.72,0.31],[263.83,-0.04],
[263.94,0.03],[264.05,-0.18],[264.16,-0.4],[264.27,-0.57],[264.38,-0.65],[264.47,-0.79],[264.58,-0.4],[264.69,-0.68],[264.8,-0.4],[264.89,-0.33],
[265.0,-0.54],[265.11,-0.72],[265.22,-0.54],[265.33,-0.26],[265.44,-0.26],[265.55,-0.75],[265.66,-0.82],[265.77,-0.65],[265.88,-1.11],[265.99,-0.96],
[266.11,-0.61],[266.18,-0.01],[266.3,0.03],[266.41,0.42],[266.52,0.17],[266.63,0.7],[266.77,0.74],[266.94,0.67],[267.05,0.52],[267.16,0.45],
[267.28,0.31],[267.39,0.21],[267.5,0.21],[267.61,0.06],[267.72,-0.08],[267.83,0.03],[267.94,0.13],[268.05,0.03],[268.16,0.21],[268.27,-0.01],
[268.38,-0.47],[268.49,0.06],[268.6,0.13],[268.69,0.17],[268.78,-0.33],[268.89,-0.11],[269.0,-0.08],[269.11,-0.04],[269.19,-0.54],[269.3,-0.4],
[269.41,-0.04],[269.52,-0.11],[269.63,-0.33],[269.75,-0.4],[269.86,-1.0],[269.97,-1.25],[270.08,-1.18],[270.19,-0.57],[270.28,-0.33],[270.35,-0.22],
[270.44,-0.61],[270.52,-1.43],[270.63,-1.92],[270.74,-1.82],[270.82,-1.43],[270.93,-1.32],[271.02,-1.21],[271.15,-0.4],[271.26,-0.04],[271.35,-0.36],
[271.46,-0.4],[271.57,-0.47],[271.68,-0.29],[271.79,-0.4],[271.9,-0.47],[272.02,-0.47],[272.13,-0.36],[272.24,-0.18],[272.35,0.13],[272.46,0.24],
[272.57,-0.04],[272.68,0.06],[272.79,0.31],[272.9,0.35],[273.01,0.31],[273.1,0.45],[273.21,0.6],[273.32,0.52],[273.43,0.1],[273.54,-0.11],
[273.65,0.28],[273.76,-0.36],[273.88,0.03],[273.99,0.24],[274.1,0.1],[274.21,-0.54],[274.32,-0.82],[274.43,-0.93],[274.56,-0.96],[274.67,-0.29],
[274.78,0.42],[274.89,0.31],[275.0,-0.08],[275.12,0.06],[275.23,0.06],[275.34,-0.26],[275.45,-0.4],[275.56,-0.36],[275.67,-0.15],[275.78,-0.96],
[275.89,-0.57],[276.0,-0.82],[276.11,-1.0],[276.22,-0.72],[276.34,-0.47],[276.45,-0.4],[276.56,-0.11],[276.67,0.24],[276.78,0.52],[276.89,0.7],
[277.0,0.35],[277.11,-0.43],[277.22,-0.26],[277.33,-0.18],[277.44,-0.11],[277.55,-0.11],[277.66,-0.26],[277.77,-0.54],[277.88,-0.68],[277.99,-0.65],
[278.1,-0.5],[278.21,-0.36],[278.32,-0.11],[278.44,0.13],[278.55,0.1],[278.66,-0.26],[278.77,-0.22],[278.88,0.03],[278.99,-0.18],[279.1,-0.5],
[279.21,-0.04],[279.32,0.03],[279.44,-0.18],[279.55,-0.5],[279.66,-0.79],[279.77,-0.54],[279.9,-1.15],[280.01,-0.72],[280.12,-0.4],[280.23,-1.15],
[280.34,-0.96],[280.45,-1.15],[280.56,-0.82],[280.67,-0.4],[280.78,-0.75],[280.89,-0.68],[281.0,-0.4],[281.12,-0.75],[281.23,-1.04],[281.34,-0.82],
[281.45,-0.93],[281.56,-1.15],[281.67,-0.72],[281.78,-1.04],[281.89,-0.89],[282.0,-0.61],[282.11,-0.22],[282.22,-0.04],[282.33,0.35],[282.44,0.56],
[282.56,0.7],[282.67,0.63],[282.76,0.74],[282.9,0.24],[282.99,-0.33],[283.1,-0.04],[283.21,0.17],[283.32,0.38],[283.43,0.21],[283.54,0.24],
[283.65,0.24],[283.74,0.35],[283.84,0.49],[283.97,0.31],[284.07,0.13],[284.18,-0.08],[284.31,-0.11],[284.45,-0.01],[284.55,0.06],[284.68,-0.04],
[284.79,0.03],[284.89,-0.01],[284.97,-0.4],[285.05,-0.68],[285.15,-0.89],[285.26,-0.96],[285.36,-1.32],[285.47,-1.15],[285.57,-1.11],[285.68,-1.04],
[285.78,-0.89],[285.89,-0.61],[285.99,-0.5],[286.09,-0.47],[286.2,-0.22],[286.3,-0.26],[286.44,-0.22],[286.57,-0.26],[286.69,-0.4],[286.8,-0.33],
[286.9,0.17],[287.0,0.1],[287.11,0.03],[287.21,-0.54],[287.32,-0.86],[287.42,-0.4],[287.53,-0.18],[287.63,-0.18],[287.74,-0.08],[287.84,-0.04],
[287.95,-0.04],[288.05,0.31],[288.14,0.74],[288.24,0.67],[288.32,0.21],[288.41,-0.4],[288.5,-0.15],[288.61,0.17],[288.71,0.6],[288.82,0.67],
[288.92,0.7],[289.03,0.67],[289.13,0.52],[289.24,0.21],[289.34,0.13],[289.45,0.24],[289.55,0.13],[289.65,-0.04],[289.76,-0.15],[289.86,-0.18],
[289.97,0.1],[290.07,0.03],[290.18,-0.08],[290.28,-0.11],[290.39,0.17],[290.49,0.31],[290.6,0.21],[290.7,-0.22],[290.81,0.28],[290.91,0.1],
[291.02,-0.08],[291.12,-0.18],[291.23,-0.36],[291.33,-0.36],[291.43,0.1],[291.54,0.24],[291.64,-0.15],[291.75,0.24],[291.85,0.52],[291.96,0.49],
[292.06,0.24],[292.17,-0.04],[292.27,-0.33],[292.38,-0.36],[292.48,-0.01],[292.59,0.03],[292.69,0.06],[292.8,0.13],[292.9,0.03],[293.01,-0.22],
[293.11,-0.36],[293.21,-0.22],[293.32,-0.08],[293.42,0.42],[293.53,0.81],[293.63,0.6],[293.74,0.35],[293.81,0.24],[293.9,1.09],[294.0,0.7],
[294.1,0.1],[294.19,-0.15],[294.29,0.52],[294.4,0.31],[294.52,0.1],[294.63,-0.22],[294.73,-0.43],[294.84,-0.18],[294.94,-0.08],[295.05,-0.15],
[295.15,-0.11],[295.26,-0.18],[295.36,-0.01],[295.47,0.03],[295.57,-0.18],[295.68,-0.33],[295.78,-0.89],[295.89,-0.68],[295.99,-0.68],[296.07,-1.0],
[296.16,-1.11],[296.26,-0.26],[296.37,-0.61],[296.47,0.1],[296.58,0.45],[296.68,-0.04],[296.79,0.49],[296.89,0.74],[297.0,0.56],[297.1,0.7],
[297.2,0.74],[297.31,1.16],[297.39,1.2],[297.48,0.56],[297.58,0.52],[297.66,1.02],[297.77,0.84],[297.87,1.09],[297.98,1.52],[298.08,1.55],
[298.19,1.73],[298.27,1.87],[298.35,1.73],[298.44,0.74],[298.54,-0.11],[298.65,-0.22],[298.75,0.03],[298.86,-0.29],[298.96,0.1],[299.05,-0.61],
[299.15,-0.75],[299.26,-0.61],[299.36,-0.33],[299.46,0.03],[299.57,0.49],[299.67,0.28],[299.78,0.52],[299.88,0.56],[299.97,0.35]
];

const vzEstimated = [
[250.07,0.42],[250.14,0.24],[250.25,-0.04],[250.33,-0.18],[250.44,-0.15],[250.51,0.17],[250.59,-0.04],[250.66,0.17],[250.75,0.21],[250.86,0.03],
[250.97,0.06],[251.08,0.12],[251.17,-0.11],[251.28,0.1],[251.42,0.05],[251.55,0.28],[251.66,-0.08],[251.77,-0.26],[251.88,-0.5],[251.99,-0.18],
[252.08,0.28],[252.19,0.52],[252.32,0.35],[252.43,0.63],[252.54,0.67],[252.65,0.6],[252.77,0.6],[252.88,0.35],[252.99,0.38],[253.1,-0.47],
[253.19,0.17],[253.3,0.42],[253.41,0.35],[253.54,0.35],[253.65,0.1],[253.76,0.42],[253.87,0.74],[253.96,0.67],[254.07,0.84],[254.18,0.49],
[254.29,0.21],[254.4,0.28],[254.51,0.13],[254.62,0.24],[254.7,0.31],[254.81,0.24],[254.92,0.13],[255.04,0.1],[255.12,0.17],[255.23,0.31],
[255.34,0.21],[255.45,0.17],[255.56,0.21],[255.71,0.1],[255.86,0.45],[255.97,0.06],[256.08,-0.4],[256.19,-0.26],[256.3,-0.36],[256.42,-0.29],
[256.53,-0.36],[256.64,-0.33],[256.75,-0.22],[256.86,0.03],[256.97,-0.22],[257.08,-0.11],[257.19,-0.18],[257.3,-0.4],[257.41,-0.33],[257.5,0.03],
[257.61,0.24],[257.72,0.45],[257.81,0.7],[257.92,0.49],[258.03,0.63],[258.14,0.52],[258.27,0.98],[258.38,0.63],[258.5,0.67],[258.61,0.49],
[258.7,-0.18],[258.81,-0.15],[258.92,-0.15],[259.03,0.1],[259.1,0.38],[259.21,0.17],[259.33,0.42],[259.44,0.63],[259.55,0.74],[259.66,0.45],
[259.77,0.63],[259.88,0.7],[259.99,0.56],[260.1,0.21],[260.21,-0.11],[260.29,-0.33],[260.4,-0.01],[260.51,-0.22],[260.62,0.03],[260.73,0.06],
[260.82,0.17],[260.93,0.1],[261.04,-0.36],[261.15,-0.26],[261.26,-0.18],[261.37,0.06],[261.48,-0.11],[261.59,-0.33],[261.7,-0.22],[261.81,-0.26],
[261.92,-0.22],[262.04,-0.26],[262.15,-0.15],[262.26,0.1],[262.37,0.31],[262.48,-0.04],[262.59,-0.36],[262.72,-0.04],[262.83,-0.18],[262.92,-0.86],
[263.01,-0.65],[263.12,-0.61],[263.23,-0.82],[263.34,-0.86],[263.45,-0.89],[263.56,-0.82],[263.67,-0.75],[263.78,-0.47],[263.89,-0.5],[264.0,-0.47],
[264.11,-0.15],[264.23,0.03],[264.34,-0.26],[264.45,-0.18],[264.56,0.17],[264.67,-0.18],[264.78,0.03],[264.89,-0.01],[265.0,-0.08],[265.11,-0.26],
[265.22,-0.43],[265.33,-0.15],[265.44,-0.22],[265.55,-0.26],[265.66,-0.22],[265.77,-0.11],[265.88,-0.18],[265.99,-0.01],[266.11,-0.04],[266.22,-0.11],
[266.33,-0.33],[266.44,-0.43],[266.55,-0.11],[266.66,0.06],[266.77,-0.18],[266.9,0.1],[266.98,0.28],[267.05,0.24],[267.16,0.28],[267.23,0.03],
[267.31,-0.04],[267.39,0.49],[267.48,0.77],[267.59,0.84],[267.68,0.77],[267.77,0.56],[267.86,0.84],[267.97,0.21],[268.08,-0.33],[268.19,-0.36],
[268.27,-0.93],[268.34,-0.11],[268.41,0.42],[268.49,-0.04],[268.6,-0.18],[268.71,-0.5],[268.82,-0.4],[268.93,-0.22],[269.04,-0.26],[269.15,-0.47],
[269.26,-0.04],[269.38,-0.29],[269.49,-0.18],[269.6,-0.47],[269.71,-0.5],[269.82,-0.68],[269.93,-0.75],[270.04,-1.11],[270.15,-0.82],[270.27,-0.4],
[270.38,-0.4],[270.49,-0.47],[270.6,-0.18],[270.69,-0.61],[270.8,-0.75],[270.91,-0.82],[271.02,-0.96],[271.13,-1.07],[271.24,-1.15],[271.35,-0.82],
[271.44,-0.4],[271.55,-0.01],[271.66,0.24],[271.74,-0.01],[271.85,-0.08],[271.93,-0.22],[272.02,-0.08],[272.13,-0.22],[272.24,-0.29],[272.35,-0.18],
[272.46,-0.08],[272.57,0.17],[272.68,0.6],[272.79,0.88],[272.88,0.45],[272.99,0.38],[273.1,0.35],[273.21,0.31],[273.32,0.31],[273.43,0.49],
[273.54,0.63],[273.62,0.1],[273.7,-0.18],[273.79,0.1],[273.9,-0.11],[274.01,0.1],[274.12,0.42],[274.23,0.45],[274.34,0.24],[274.45,0.45],
[274.56,0.74],[274.67,0.6],[274.78,0.52],[274.89,0.45],[275.0,0.13],[275.11,0.03],[275.2,0.31],[275.28,0.52],[275.36,0.24],[275.47,0.1],
[275.56,-0.18],[275.67,-0.47],[275.76,-0.75],[275.87,-1.0],[275.98,-1.46],[276.06,-1.11],[276.17,-0.96],[276.28,-0.54],[276.39,-0.4],[276.5,-0.04],
[276.61,0.49],[276.72,0.31],[276.83,-0.11],[276.94,-0.01],[277.05,0.24],[277.16,0.63],[277.24,0.74],[277.33,0.35],[277.44,-0.01],[277.55,-0.11],
[277.66,-0.11],[277.77,-0.26],[277.88,-0.08],[278.02,0.1],[278.13,0.21],[278.24,0.52],[278.35,0.56],[278.46,0.81],[278.57,0.74],[278.68,0.67],
[278.79,0.45],[278.9,0.42],[278.99,0.35],[279.1,0.81],[279.19,0.67],[279.3,0.21],[279.41,0.38],[279.52,0.84],[279.63,0.49],[279.74,-0.01],
[279.85,-0.4],[279.96,-0.61],[280.08,-0.57],[280.19,-0.47],[280.26,-0.22],[280.34,-0.5],[280.45,-0.57],[280.56,-0.65],[280.67,-0.61],[280.78,-0.4],
[280.87,-0.65],[280.98,-0.18],[281.09,-0.4],[281.2,-0.68],[281.31,-1.07],[281.43,-0.5],[281.54,-0.75],[281.65,-0.4],[281.76,-0.15],[281.87,0.06],
[281.96,0.28],[282.07,0.1],[282.18,0.17],[282.29,0.6],[282.4,0.45],[282.51,0.42],[282.62,0.38],[282.73,0.24],[282.84,0.38],[282.95,0.31],
[283.03,-0.5],[283.14,-0.26],[283.25,-0.01],[283.36,0.17],[283.47,0.49],[283.58,0.17],[283.7,0.24],[283.74,0.24],[283.84,0.06],[283.95,0.13],
[284.05,-0.01],[284.16,-0.04],[284.28,0.17],[284.39,0.03],[284.49,-0.22],[284.58,-0.47],[284.68,0.03],[284.76,0.21],[284.84,0.03],[284.94,0.42],
[285.02,0.31],[285.1,-0.18],[285.2,-0.29],[285.31,-0.04],[285.41,-0.01],[285.5,-0.22],[285.6,-0.36],[285.71,-0.15],[285.81,-0.11],[285.92,-0.54],
[286.02,-0.22],[286.13,-0.47],[286.23,-0.5],[286.34,-0.18],[286.44,0.13],[286.55,0.45],[286.65,0.38],[286.76,-0.08],[286.86,0.06],[286.96,-0.01],
[287.07,0.31],[287.17,0.28],[287.28,0.21],[287.38,0.38],[287.49,0.42],[287.59,0.28],[287.7,0.24],[287.8,0.13],[287.91,0.17],[288.01,-0.04],
[288.12,0.1],[288.22,0.42],[288.33,0.38],[288.43,0.38],[288.54,0.6],[288.64,0.21],[288.75,0.38],[288.83,0.74],[288.93,0.35],[289.06,0.06],
[289.16,0.31],[289.27,0.49],[289.37,0.21],[289.48,0.17],[289.58,-0.01],[289.69,0.03],[289.79,0.24],[289.9,0.35],[289.98,0.6],[290.08,0.1],
[290.19,0.28],[290.29,0.56],[290.4,0.77],[290.5,0.88],[290.61,0.84],[290.71,0.7],[290.82,0.49],[290.92,0.38],[291.03,0.17],[291.13,0.31],
[291.24,0.45],[291.34,0.35],[291.45,0.1],[291.55,-0.04],[291.65,-0.22],[291.76,-0.36],[291.86,0.24],[291.96,0.21],[292.07,-0.18],[292.18,-0.57],
[292.28,-0.18],[292.39,0.49],[292.49,0.77],[292.6,0.84],[292.7,0.88],[292.81,0.84],[292.91,0.74],[293.02,1.13],[293.12,1.06],[293.23,1.2],
[293.33,1.2],[293.44,1.13],[293.54,1.09],[293.64,1.09],[293.75,1.2],[293.83,1.3],[293.94,1.16],[294.04,0.88],[294.15,0.56],[294.25,0.7],
[294.36,0.45],[294.46,-0.18],[294.57,-0.5],[294.67,-0.82],[294.78,-0.68],[294.88,-0.36],[294.99,-0.18],[295.09,0.1],[295.2,0.35],[295.3,0.45],
[295.41,0.52],[295.51,0.49],[295.61,0.6],[295.72,0.49],[295.82,0.6],[295.93,0.24],[296.03,0.13],[296.14,-0.04],[296.24,0.31],[296.35,0.21],
[296.45,0.24],[296.56,0.1],[296.66,0.24],[296.77,0.45],[296.87,0.38],[296.98,0.24],[297.08,0.17],[297.19,-0.04],[297.29,-0.22],[297.4,-0.04],
[297.5,0.03],[297.61,0.1],[297.71,-0.65],[297.82,-0.5],[297.92,-0.26],[298.02,0.1],[298.13,0.1],[298.23,0.31],[298.34,0.7],[298.45,0.81],
[298.55,0.9],[298.66,0.63],[298.76,0.74],[298.87,0.88],[298.97,1.06],[299.08,1.16],[299.18,1.02],[299.29,1.13],[299.39,0.45],[299.5,0.67],
[299.6,0.42],[299.71,0.63],[299.81,0.74],[299.92,0.77],[299.97,0.74]
];

// ---- drawing helpers ----
const FONT = '"DejaVu Sans", "Liberation Sans", sans-serif';
const minus = s => s.replace('-', '\u2212');

// y label like  V^G_{0,x} [m s^-1]  drawn rotated, mathtext style
function drawYLabel(ctx, xBase, yMid, comp) {
  const big = 31, small = 22;
  const reg = s => s + 'px ' + FONT;
  const ita = s => 'italic ' + s + 'px ' + FONT;
  const w = (t, f) => { ctx.font = f; return ctx.measureText(t).width; };
  const wV = w('V', ita(big));
  const w0 = w('0,', reg(small));
  const wSub = w0 + w(comp, ita(small));
  const wSup = w('G', ita(small)) + 3;
  const wScr = Math.max(wSub, wSup);
  const wRest = w(' [m s', reg(big)) + w('\u22121', reg(small)) + w(']', reg(big));
  ctx.save();
  ctx.translate(xBase, yMid);
  ctx.rotate(-Math.PI / 2);
  ctx.fillStyle = '#000';
  ctx.textAlign = 'left';
  ctx.textBaseline = 'alphabetic';
  let x = -(wV + wScr + wRest) / 2;
  ctx.font = ita(big); ctx.fillText('V', x, 0); x += wV;
  ctx.font = ita(small); ctx.fillText('G', x + 3, -14);
  ctx.font = reg(small); ctx.fillText('0,', x, 8);
  ctx.font = ita(small); ctx.fillText(comp, x + w0, 8);
  x += wScr;
  ctx.font = reg(big); ctx.fillText(' [m s', x, 0); x += w(' [m s', reg(big));
  ctx.font = reg(small); ctx.fillText('\u22121', x, -14); x += w('\u22121', reg(small));
  ctx.font = reg(big); ctx.fillText(']', x, 0);
  ctx.restore();
}

const panelDecor = {
  id: 'panelDecor',
  afterDatasetsDraw(chart, args, o) {
    const {ctx, chartArea: a, scales: {x, y}} = chart;
    ctx.save();
    ctx.setLineDash([]);
    ctx.strokeStyle = '#000';
    ctx.lineWidth = 2;
    ctx.beginPath();
    x.ticks.forEach(t => {
      const px = x.getPixelForValue(t.value);
      ctx.moveTo(px, a.bottom); ctx.lineTo(px, a.bottom - 17);
      ctx.moveTo(px, a.top); ctx.lineTo(px, a.top + 17);
    });
    y.ticks.forEach(t => {
      const py = y.getPixelForValue(t.value);
      ctx.moveTo(a.left, py); ctx.lineTo(a.left + 17, py);
      ctx.moveTo(a.right, py); ctx.lineTo(a.right - 17, py);
    });
    ctx.stroke();
    ctx.lineWidth = 4;
    ctx.strokeRect(a.left, a.top, a.right - a.left, a.bottom - a.top);

    if (o.legend) {
      const L = a.left + 9, R = a.right - 8, T = a.top + 9, B = a.top + 62;
      const my = (T + B) / 2 + 1;
      ctx.fillStyle = '#fff';
      ctx.fillRect(L, T, R - L, B - T);
      ctx.lineWidth = 3.5;
      ctx.strokeRect(L, T, R - L, B - T);
      ctx.lineCap = 'butt';
      ctx.strokeStyle = '#0000ff'; ctx.lineWidth = 9;
      ctx.beginPath(); ctx.moveTo(L + 9, my); ctx.lineTo(L + 77, my); ctx.stroke();
      ctx.strokeStyle = '#ff0000'; ctx.lineWidth = 3.5;
      ctx.beginPath(); ctx.moveTo(R - 247, my); ctx.lineTo(R - 184, my); ctx.stroke();
      ctx.fillStyle = '#000';
      ctx.font = '29px ' + FONT;
      ctx.textBaseline = 'middle';
      ctx.textAlign = 'left';
      ctx.fillText(seriesNames[0], L + 98, my);
      ctx.fillText(seriesNames[1], R - 161, my);
    }
    ctx.restore();
    drawYLabel(ctx, o.labelX, (a.top + a.bottom) / 2, o.comp);
  }
};

function makePanel(id, cfg) {
  const toXY = arr => arr.map(p => ({x: p[0], y: p[1]}));
  const tickFont = {family: FONT, size: 28.5};
  return new Chart(document.getElementById(id), {
    type: 'line',
    data: {
      datasets: [
        {label: seriesNames[0], data: toXY(cfg.ellip), borderColor: '#0000ff', borderWidth: 9, order: 1},
        {label: seriesNames[1], data: toXY(cfg.est), borderColor: '#ff0000', borderWidth: 3.5, order: 0}
      ]
    },
    options: {
      responsive: true,
      maintainAspectRatio: false,
      animation: false,
      devicePixelRatio: 1,
      layout: {padding: {top: cfg.padTop, right: 36, bottom: 0, left: 0}},
      elements: {
        point: {radius: 0, hoverRadius: 0},
        line: {tension: 0, borderJoinStyle: 'round', borderCapStyle: 'round', fill: false}
      },
      plugins: {
        legend: {display: false},
        tooltip: {enabled: false},
        panelDecor: {legend: cfg.legend, comp: cfg.comp, labelX: cfg.labelX}
      },
      scales: {
        x: {
          type: 'linear', min: 250, max: 300,
          afterBuildTicks: s => { s.ticks = timeTicks.map(v => ({value: v})); },
          afterFit: s => { s.height = cfg.xHeight; s.paddingLeft = 0; s.paddingRight = 0; },
          grid: {color: '#999999', lineWidth: 1.8, drawTicks: false},
          border: {display: false, dash: [10, 6]},
          ticks: {display: cfg.showX, color: '#000', font: tickFont, padding: 15, maxRotation: 0},
          title: {display: cfg.showX, text: 'Time [s]', color: '#000', font: tickFont, padding: {top: 0, bottom: 3}}
        },
        y: {
          min: cfg.ticks[0], max: cfg.ticks[cfg.ticks.length - 1],
          afterBuildTicks: s => { s.ticks = cfg.ticks.map(v => ({value: v})); },
          afterFit: s => { s.width = 160; s.paddingTop = 0; s.paddingBottom = 0; },
          grid: {color: '#999999', lineWidth: 1.8, drawTicks: false},
          border: {display: false, dash: [10, 6]},
          ticks: {color: '#000', font: tickFont, padding: 17, callback: cfg.fmt}
        }
      }
    },
    plugins: [panelDecor]
  });
}

makePanel('chartX', {
  ellip: vxEllipSys, est: vxEstimated, ticks: vxTicks, fmt: v => minus(String(v)),
  padTop: 20, xHeight: 44, showX: false, legend: true, comp: 'x', labelX: 64
});
makePanel('chartY', {
  ellip: vyEllipSys, est: vyEstimated, ticks: vyTicks, fmt: v => v.toFixed(1),
  padTop: 32, xHeight: 32, showX: false, legend: false, comp: 'y', labelX: 60.5
});
makePanel('chartZ', {
  ellip: vzEllipSys, est: vzEstimated, ticks: vzTicks, fmt: v => minus(v.toFixed(1)),
  padTop: 44, xHeight: 103, showX: true, legend: false, comp: 'z', labelX: 37
});
</script>
</body>
</html>
